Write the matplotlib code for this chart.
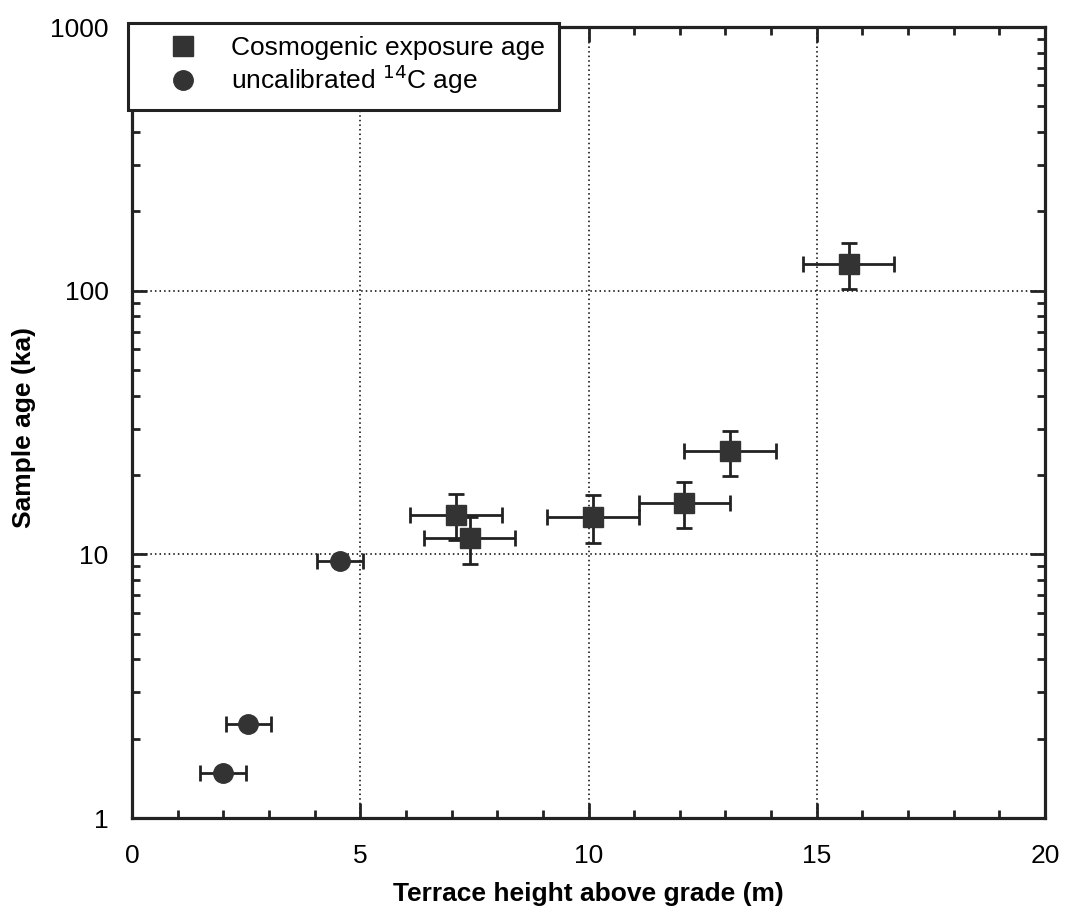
import matplotlib
matplotlib.use("Agg")
import matplotlib.pyplot as plt
from matplotlib.ticker import FixedLocator, LogLocator, NullFormatter, FixedFormatter
from matplotlib.lines import Line2D

plt.rcParams['font.family'] = ['Liberation Sans', 'DejaVu Sans']

# Cosmogenic exposure ages (squares)
cosmo_height = [7.1, 7.4, 10.1, 12.1, 13.1, 15.7]
cosmo_age = [14.1, 11.5, 13.9, 15.7, 24.6, 126.7]
cosmo_xerr = [1.0, 1.0, 1.0, 1.0, 1.0, 1.0]
cosmo_yerr = [2.8, 2.3, 2.85, 3.1, 4.8, 25.0]

# Uncalibrated 14C ages (circles)
c14_height = [2.0, 2.55, 4.56]
c14_age = [1.48, 2.27, 9.45]
c14_xerr = [0.5, 0.5, 0.5]

x_ticks = [0, 5, 10, 15, 20]
y_ticks = [1, 10, 100, 1000]
y_tick_labels = ["1", "10", "100", "1000"]

W, H = 1066, 922
fig = plt.figure(figsize=(W / 100, H / 100), dpi=100)
ax = fig.add_axes([132 / W, 1 - 818 / H, (1045 - 132) / W, (818 - 27) / H])

ax.set_yscale('log')
ax.set_xlim(0, 20)
ax.set_ylim(1, 1000)

ek = dict(ecolor='#222222', elinewidth=2.0, capsize=6, capthick=2.0, linestyle='none')
ax.errorbar(cosmo_height, cosmo_age, xerr=cosmo_xerr, yerr=cosmo_yerr,
            marker='s', markersize=14, markerfacecolor='#333333',
            markeredgecolor='#333333', zorder=4, **ek)
ax.errorbar(c14_height, c14_age, xerr=c14_xerr,
            marker='o', markersize=14, markerfacecolor='#333333',
            markeredgecolor='#333333', zorder=4, **ek)

ax.xaxis.set_major_locator(FixedLocator(x_ticks))
ax.xaxis.set_minor_locator(FixedLocator(list(range(0, 21))))
ax.yaxis.set_major_locator(FixedLocator(y_ticks))
ax.yaxis.set_major_formatter(FixedFormatter(y_tick_labels))
ax.yaxis.set_minor_locator(LogLocator(base=10, subs=range(2, 10)))
ax.yaxis.set_minor_formatter(NullFormatter())

ax.tick_params(which='both', direction='in', top=True, right=True, width=2.0, color='#222222')
ax.tick_params(which='major', length=11, labelsize=19)
ax.tick_params(axis='x', which='major', pad=19)
ax.tick_params(axis='y', which='major', pad=17)
ax.tick_params(which='minor', length=6)

ax.grid(True, which='major', linestyle=(0, (1, 2)), color='black', linewidth=1.1)
for s in ax.spines.values():
    s.set_linewidth(2.3)
    s.set_color('#222222')

ax.set_xlabel('Terrace height above grade (m)', fontsize=19, fontweight='bold', labelpad=10)
fig.text(24 / W, 1 - 428 / H, 'Sample age (ka)', fontsize=19, fontweight='bold',
         rotation=90, ha='center', va='center')

handles = [
    Line2D([], [], marker='s', linestyle='none', markersize=14, color='#333333'),
    Line2D([], [], marker='o', linestyle='none', markersize=14, color='#333333'),
]
labels = ['Cosmogenic exposure age', 'uncalibrated $^{14}$C age']
leg = fig.legend(handles, labels, loc='upper left',
                 bbox_to_anchor=(128 / W, 1 - 108 / H, (559 - 128) / W, 85 / H),
                 mode='expand', borderaxespad=0, fontsize=19, frameon=True, fancybox=False,
                 edgecolor='#222222', borderpad=0.5, handletextpad=0.2,
                 labelspacing=0.1, handlelength=3.2)
leg.get_frame().set_linewidth(2.2)
leg.get_frame().set_facecolor('white')
leg.get_frame().set_alpha(1)
leg.set_zorder(10)

fig.savefig('out.png', dpi=100)
